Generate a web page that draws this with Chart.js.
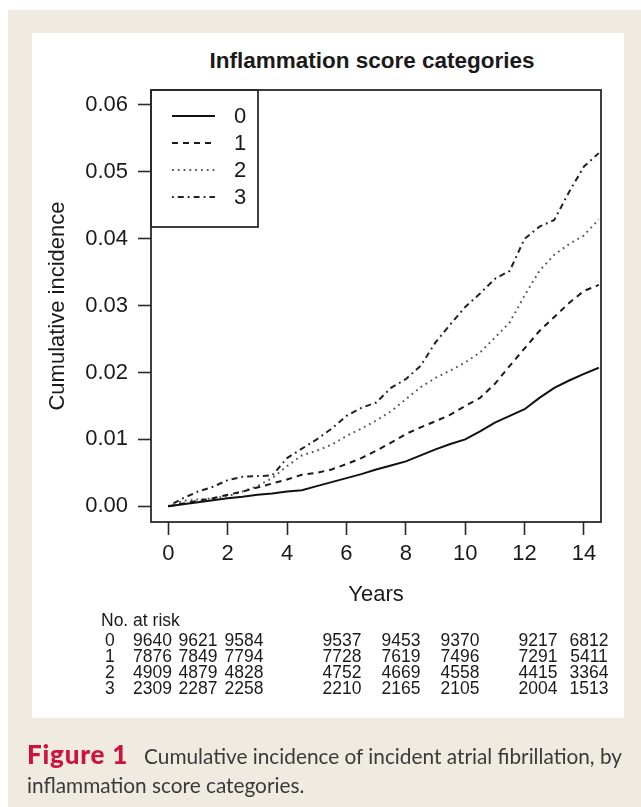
<!DOCTYPE html>
<html><head><meta charset="utf-8">
<script src="https://cdn.jsdelivr.net/npm/chart.js@4.4.0/dist/chart.umd.min.js"></script>
<style>
html,body{margin:0;padding:0;background:#fff;}
#wrap{position:relative;width:641px;height:807px;overflow:hidden;}
#beige{position:absolute;left:8px;top:10px;width:633px;height:797px;background:#efebe0;}
#panel{position:absolute;left:32px;top:33px;width:592px;height:685px;background:#fff;}
#c{position:absolute;left:0;top:0;}
.t{position:absolute;font-family:"Liberation Sans",Arial,sans-serif;color:#1a1a1a;white-space:nowrap;}
#title{left:147px;width:450px;top:47px;text-align:center;font-weight:bold;font-size:22.5px;line-height:28px;}
.r{position:absolute;font-family:"Liberation Sans",Arial,sans-serif;color:#1a1a1a;font-size:17.5px;line-height:16px;white-space:nowrap;}
.rc{transform:translateX(-50%);}
#caption{position:absolute;left:27px;top:741px;font-family:Lato,"Open Sans",sans-serif;font-size:20.8px;line-height:29px;color:#3a3a3a;white-space:nowrap;}
#caption b{color:#cf1239;font-weight:900;font-size:26px;letter-spacing:0.8px;line-height:20px;}
</style></head>
<body><div id="wrap">
<div id="beige"></div><div id="panel"></div>
<div id="title" class="t">Inflammation score categories</div>
<canvas id="c" width="641" height="807" style="width:641px;height:807px"></canvas>
<div id="risk"></div>
<div id="caption"><b>Figure 1</b>&nbsp;&nbsp; Cumulative incidence of incident atrial fibrillation, by<br>inflammation score categories.</div>
</div>
<script>
// ---- data ----
const years = [0,0.5,1,1.5,2,2.5,3,3.5,4,4.5,5,5.5,6,6.5,7,7.5,8,8.5,9,9.5,10,10.5,11,11.5,12,12.5,13,13.5,14,14.5];
const score0 = [0,0.0003,0.0006,0.0009,0.0012,0.0014,0.0017,0.0019,0.0022,0.0024,0.0030,0.0036,0.0042,0.0048,0.0055,0.0061,0.0067,0.0076,0.0085,0.0093,0.0100,0.0112,0.0125,0.0135,0.0145,0.0162,0.0177,0.0188,0.0198,0.0207];
const score1 = [0,0.0004,0.0008,0.0012,0.0017,0.0022,0.0028,0.0034,0.0040,0.0047,0.0050,0.0055,0.0063,0.0072,0.0083,0.0095,0.0108,0.0118,0.0127,0.0137,0.0150,0.0162,0.0183,0.0210,0.0236,0.0262,0.0283,0.0304,0.0322,0.0331];
const score2 = [0,0.0008,0.0010,0.0012,0.0015,0.0022,0.0030,0.0042,0.0060,0.0076,0.0083,0.0092,0.0105,0.0116,0.0128,0.0142,0.0160,0.0178,0.0192,0.0203,0.0215,0.0230,0.0252,0.0275,0.0315,0.0352,0.0376,0.0392,0.0405,0.0429];
const score3 = [0,0.0012,0.0022,0.0029,0.0039,0.0044,0.0045,0.0046,0.0072,0.0086,0.0100,0.0116,0.0135,0.0147,0.0155,0.0177,0.0190,0.0210,0.0245,0.0272,0.0298,0.0318,0.0340,0.0352,0.0400,0.0418,0.0428,0.0470,0.0508,0.0528];
const seriesNames = ['0','1','2','3'];
const xTicks = [0,2,4,6,8,10,12,14];
const yTicks = [0,0.01,0.02,0.03,0.04,0.05,0.06];
const riskGroups = ['0','1','2','3'];
const risk0 = [9640,9621,9584,9537,9453,9370,9217,6812];
const risk1 = [7876,7849,7794,7728,7619,7496,7291,5411];
const risk2 = [4909,4879,4828,4752,4669,4558,4415,3364];
const risk3 = [2309,2287,2258,2210,2165,2105,2004,1513];

// ---- risk table (HTML text) ----
const riskCols = [152.5,198,244,342,401,460,538,589];
const riskRows = [640,656,672,688];
const riskDiv = document.getElementById('risk');
function addText(txt, x, yc, centered){
  const s = document.createElement('span');
  s.className = 'r' + (centered ? ' rc' : '');
  s.textContent = txt;
  s.style.left = x + 'px';
  s.style.top = (yc - 8) + 'px';
  riskDiv.appendChild(s);
}
addText('No. at risk', 101, 620, false);
[risk0,risk1,risk2,risk3].forEach((row,ri)=>{
  addText(riskGroups[ri], 105, riskRows[ri], false);
  row.forEach((v,ci)=>addText(String(v), riskCols[ci], riskRows[ri], true));
});

// ---- chart ----
const FONT = '"Liberation Sans", Arial, sans-serif';
const styles = [
  {c:'#111111', d:[]},
  {c:'#1a1a1a', d:[6,5]},
  {c:'#5a5a5a', d:[1.8,4]},
  {c:'#222222', d:[1.8,4,6,4]}
];
const allSeries = [score0,score1,score2,score3];
const datasets = allSeries.map((arr,i)=>({
  label: seriesNames[i],
  data: years.map((t,k)=>({x:t,y:arr[k]})),
  borderColor: styles[i].c,
  borderDash: styles[i].d,
  borderWidth: 2,
  pointRadius: 0,
  tension: 0,
  fill: false
}));

const boxPlugin = {
  id:'box',
  afterDraw(chart){
    const {ctx, chartArea:a} = chart;
    ctx.save();
    ctx.strokeStyle = '#2a2a2a';
    ctx.lineWidth = 1.8;
    ctx.setLineDash([]);
    ctx.strokeRect(a.left, a.top, a.right-a.left, a.bottom-a.top);
    // legend box
    const lx = a.left, ly = a.top, lw = 107, lh = 137;
    ctx.strokeRect(lx, ly, lw, lh);
    const ys = [116,143,170,197];
    chart.data.datasets.forEach((ds,i)=>{
      ctx.beginPath();
      ctx.strokeStyle = ds.borderColor;
      ctx.lineWidth = ds.borderWidth;
      ctx.setLineDash(ds.borderDash);
      ctx.moveTo(172, ys[i]); ctx.lineTo(215, ys[i]);
      ctx.stroke();
      ctx.setLineDash([]);
      ctx.fillStyle = '#1a1a1a';
      ctx.font = '22px ' + FONT;
      ctx.textAlign = 'left';
      ctx.textBaseline = 'middle';
      ctx.fillText(ds.label, 234, ys[i]+1);
    });
    ctx.restore();
  }
};

new Chart(document.getElementById('c'), {
  type:'line',
  data:{datasets},
  plugins:[boxPlugin],
  options:{
    responsive:false,
    animation:false,
    devicePixelRatio:1,
    layout:{padding:{left:0,top:90,right:40,bottom:185}},
    plugins:{legend:{display:false}, tooltip:{enabled:false}, title:{display:false}},
    scales:{
      x:{
        type:'linear', min:-0.583, max:14.574,
        afterBuildTicks:s=>{s.ticks = xTicks.map(v=>({value:v}));},
        afterFit:s=>{s.height = 100;},
        ticks:{font:{family:FONT,size:22}, color:'#1a1a1a', padding:6, maxRotation:0, autoSkip:false, callback:v=>String(v)},
        grid:{drawOnChartArea:false, drawTicks:true, tickLength:13, tickColor:'#2a2a2a', tickWidth:1.6},
        border:{display:false},
        title:{display:true, text:'Years', font:{family:FONT,size:22}, color:'#1a1a1a', padding:{top:0,bottom:14}}
      },
      y:{
        type:'linear', min:-0.00236, max:0.06224,
        afterBuildTicks:s=>{s.ticks = yTicks.map(v=>({value:v}));},
        afterFit:s=>{s.width = 151;},
        ticks:{font:{family:FONT,size:22}, color:'#1a1a1a', padding:10, autoSkip:false, callback:v=>v.toFixed(2)},
        grid:{drawOnChartArea:false, drawTicks:true, tickLength:13, tickColor:'#2a2a2a', tickWidth:1.6},
        border:{display:false},
        title:{display:true, text:'Cumulative incidence', font:{family:FONT,size:22}, color:'#1a1a1a', padding:{top:45,bottom:0}}
      }
    }
  }
});
</script>
</body></html>
